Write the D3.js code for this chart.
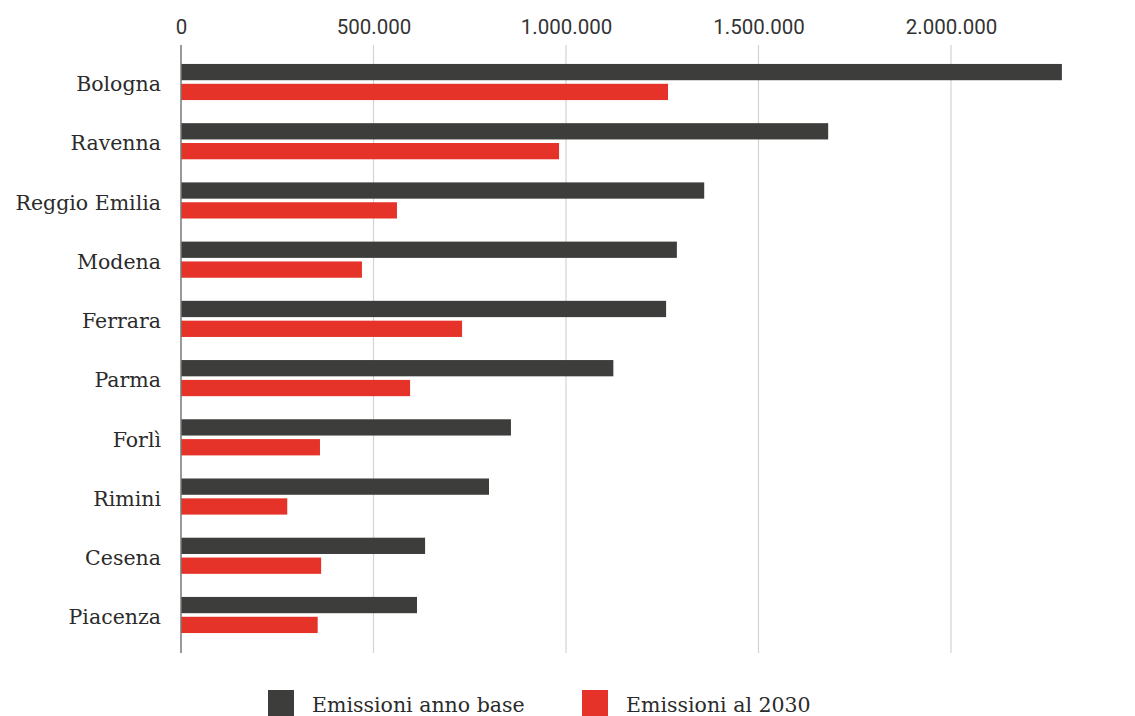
<!DOCTYPE html>
<html>
<head>
<meta charset="utf-8">
<script src="https://cdn.jsdelivr.net/npm/d3@7"></script>
<style>
  html, body { margin: 0; padding: 0; background: #fff; }
  svg { display: block; }
</style>
</head>
<body>
<svg id="chart" width="1135" height="716"></svg>
<script>
// Province, emissions in the base year and emissions target for 2030 (t CO2)
const cities = ["Bologna", "Ravenna", "Reggio Emilia", "Modena", "Ferrara", "Parma", "Forlì", "Rimini", "Cesena", "Piacenza"];
const baseYear = [2288000, 1681000, 1359000, 1288000, 1260000, 1123000, 857000, 800000, 634000, 613000];
const target2030 = [1265000, 982000, 561000, 470000, 730000, 595000, 361000, 276000, 364000, 355000];
const seriesNames = ["Emissioni anno base", "Emissioni al 2030"];
const tickValues = [0, 500000, 1000000, 1500000, 2000000];

const colors = ["#3d3d3b", "#e5332a"];
const labelFont = "'DejaVu Serif', serif";
const tickFont = "Roboto, sans-serif";

const svg = d3.select("#chart");
const plotTop = 45, plotBottom = 653;

const x = d3.scaleLinear().domain([0, 2000000]).range([181, 951]);

const y = d3.scaleBand().domain(cities).range([52.4, 644.6]).paddingInner(0.39).paddingOuter(0.195);
const ySub = d3.scaleBand().domain([0, 1]).range([0, y.bandwidth()]).paddingInner(0.18);

// gridlines
svg.append("g").selectAll("line")
  .data(tickValues.filter(d => d > 0))
  .join("line")
  .attr("x1", d => x(d)).attr("x2", d => x(d))
  .attr("y1", plotTop).attr("y2", plotBottom)
  .attr("stroke", "#d3d3d3").attr("stroke-width", 1.2);

// top axis labels
const fmt = d => d3.format(",")(d).replace(/,/g, ".");
const axis = svg.append("g")
  .attr("transform", `translate(0,${plotTop - 11})`)
  .call(d3.axisTop(x).tickValues(tickValues).tickFormat(fmt).tickSize(0).tickPadding(0));
axis.select(".domain").remove();
axis.selectAll("text")
  .attr("font-family", tickFont)
  .attr("font-size", 20.5)
  .attr("fill", "#333");

// bars
const series = [baseYear, target2030];
const rows = svg.append("g");
series.forEach((vals, s) => {
  rows.append("g").selectAll("rect")
    .data(cities)
    .join("rect")
    .attr("x", x(0))
    .attr("y", d => y(d) + ySub(s))
    .attr("width", (d, i) => x(vals[i]) - x(0))
    .attr("height", ySub.bandwidth())
    .attr("fill", colors[s]);
});

// zero line
svg.append("line")
  .attr("x1", x(0)).attr("x2", x(0))
  .attr("y1", plotTop).attr("y2", plotBottom)
  .attr("stroke", "#777").attr("stroke-width", 1.5);

// category labels
const yAxis = svg.append("g")
  .attr("transform", `translate(${x(0) - 20},0)`)
  .call(d3.axisLeft(y).tickSize(0).tickPadding(0));
yAxis.select(".domain").remove();
yAxis.selectAll("text")
  .attr("font-family", labelFont)
  .attr("font-size", 20.5)
  .attr("fill", "#2b2b2b")
  .attr("dy", "0.45em");

// legend
const legend = svg.append("g");
const legendX = [268, 582];
seriesNames.forEach((name, i) => {
  const g = legend.append("g").attr("transform", `translate(${legendX[i]},690)`);
  g.append("rect").attr("width", 26).attr("height", 26).attr("fill", colors[i]);
  g.append("text").attr("x", 44).attr("y", 22)
    .attr("font-family", labelFont).attr("font-size", 20.5).attr("fill", "#2b2b2b")
    .text(name);
});
</script>
</body>
</html>
